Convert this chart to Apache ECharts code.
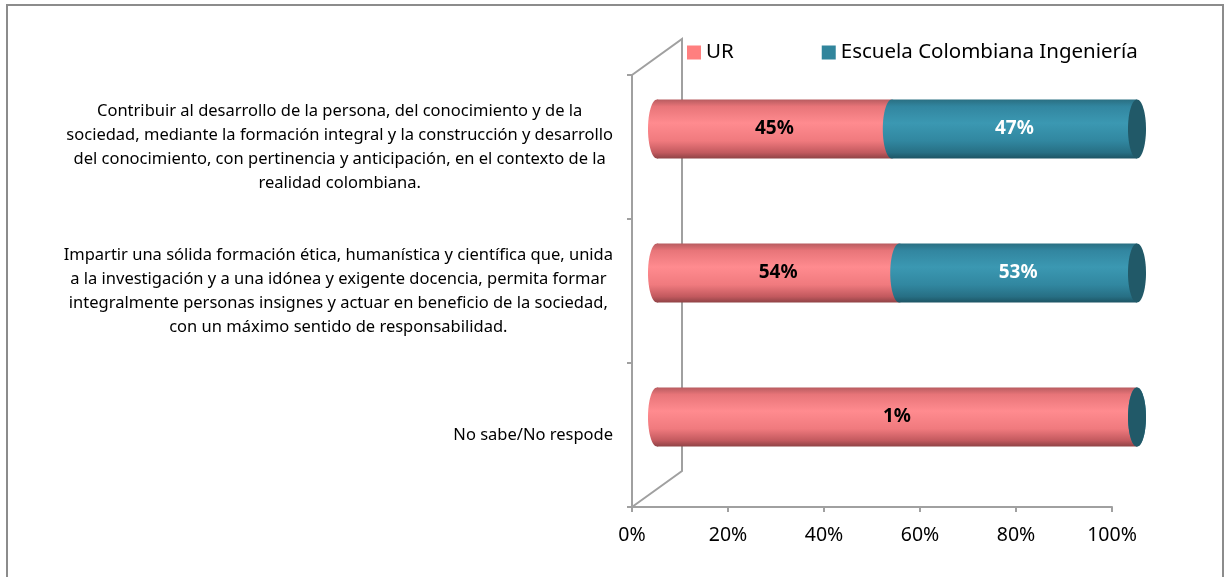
<!DOCTYPE html>
<html>
<head>
<meta charset="utf-8">
<style>
  html, body { margin: 0; padding: 0; background: #fff; }
  #chart { width: 1230px; height: 577px; }
</style>
<script src="https://cdn.jsdelivr.net/npm/echarts@6/dist/echarts.min.js"></script>
</head>
<body>
<div id="chart"></div>
<script>
// categories, top to bottom
const categories = [
  'Contribuir al desarrollo de la persona, del conocimiento y de la\nsociedad, mediante la formación integral y la construcción y desarrollo\ndel conocimiento, con pertinencia y anticipación, en el contexto de la\nrealidad colombiana.',
  'Impartir una sólida formación ética, humanística y científica que, unida\na la investigación y a una idónea y exigente docencia, permita formar\nintegralmente personas insignes y actuar en beneficio de la sociedad,\ncon un máximo sentido de responsabilidad.',
  'No sabe/No respode'
]
const urValues = [45, 54, 1]
const escuelaValues = [47, 53, 0]

// 3d depth of the chart box (px)
const DEPTH_X = 50
const DEPTH_Y = -36

const pinkGrad = () => new echarts.graphic.LinearGradient(0, 0, 0, 1, [
  { offset: 0, color: '#b85c60' },
  { offset: 0.12, color: '#e87579' },
  { offset: 0.4, color: '#ff8b8f' },
  { offset: 0.7, color: '#f07a7e' },
  { offset: 0.9, color: '#c2595e' },
  { offset: 1, color: '#8f4346' }
])
const tealGrad = () => new echarts.graphic.LinearGradient(0, 0, 0, 1, [
  { offset: 0, color: '#2a6f82' },
  { offset: 0.12, color: '#3286a0' },
  { offset: 0.4, color: '#3b98b2' },
  { offset: 0.7, color: '#3187a0' },
  { offset: 0.9, color: '#276f84' },
  { offset: 1, color: '#1d5464' }
])

// 100% stacked segments: [category, start, end, raw value]
const urData = categories.map((c, i) => {
  const t = urValues[i] + escuelaValues[i]
  return [i, 0, urValues[i] / t * 100, urValues[i]]
})
const escuelaData = categories.map((c, i) => {
  const t = urValues[i] + escuelaValues[i]
  return [i, urValues[i] / t * 100, 100, escuelaValues[i]]
})

function cylinder(fill, labelColor, withCap) {
  return function(params, api) {
    const cat = api.value(0)
    const p0 = api.coord([api.value(1), cat])
    const p1 = api.coord([api.value(2), cat])
    const band = api.size([0, 1])[1]
    const ry = band * 0.205
    const rx = 9
    const dx = DEPTH_X / 2
    const dy = DEPTH_Y / 2
    const x0 = p0[0] + dx
    const x1 = p1[0] + dx
    const cy = p0[1] + dy
    const children = [
      { type: 'ellipse', shape: { cx: x0, cy: cy, rx: rx, ry: ry }, style: { fill: fill() } },
      { type: 'rect', shape: { x: x0, y: cy - ry, width: Math.max(x1 - x0, 0), height: ry * 2 }, style: { fill: fill() } }
    ]
    if (withCap) {
      children.push({ type: 'ellipse', shape: { cx: x1, cy: cy, rx: rx, ry: ry }, style: { fill: '#215968' } })
    }
    const v = api.value(3)
    if (v > 0) {
      children.push({
        type: 'text',
        style: {
          x: (x0 + x1) / 2, y: cy, text: v + '%',
          align: 'center', verticalAlign: 'middle',
          fill: labelColor, font: 'bold 19px "Noto Sans"'
        }
      })
    }
    return { type: 'group', children: children }
  }
}

const chart = echarts.init(document.getElementById('chart'))
chart.setOption({
  animation: false,
  textStyle: { fontFamily: 'Noto Sans' },
  grid: { left: 632, right: 118, top: 75, bottom: 70 },
  legend: {
    data: ['UR', 'Escuela Colombiana Ingeniería'],
    left: 682,
    top: 37,
    icon: 'rect',
    itemWidth: 14,
    itemHeight: 14,
    itemGap: 88,
    textStyle: { fontSize: 20.5, color: '#000' }
  },
  xAxis: {
    type: 'value',
    min: 0,
    max: 100,
    interval: 20,
    axisLine: { show: true, lineStyle: { color: '#a0a0a0', width: 2 } },
    axisTick: { show: true, length: 5, lineStyle: { color: '#a0a0a0', width: 2 } },
    splitLine: { show: false },
    axisLabel: { formatter: '{value}%', fontSize: 19.5, color: '#000', margin: 18 }
  },
  yAxis: {
    type: 'category',
    inverse: true,
    data: categories,
    axisLine: { show: true, lineStyle: { color: '#a0a0a0', width: 2 } },
    axisTick: { show: true, length: 5, lineStyle: { color: '#a0a0a0', width: 2 } },
    axisLabel: {
      margin: 19,
      fontSize: 16.5,
      formatter: value => value.split('\n').map(l => '{c|' + l + '}').join('\n'),
      rich: {
        c: { fontSize: 16.5, lineHeight: 24, color: '#000', align: 'center', fontFamily: 'Noto Sans' }
      }
    }
  },
  graphic: [
    {
      type: 'rect',
      z: -1,
      shape: { x: 7, y: 5, width: 1216, height: 620 },
      style: { fill: 'none', stroke: '#8c8c8c', lineWidth: 2 }
    },
    {
      type: 'polyline',
      z: -1,
      shape: { points: [[632, 75], [632 + DEPTH_X, 75 + DEPTH_Y], [632 + DEPTH_X, 507 + DEPTH_Y], [632, 507]] },
      style: { fill: 'none', stroke: '#a0a0a0', lineWidth: 2 }
    }
  ],
  series: [
    {
      name: 'UR',
      type: 'custom',
      itemStyle: { color: '#ff7f7f' },
      encode: { x: [1, 2], y: 0 },
      renderItem: cylinder(pinkGrad, '#000', false),
      data: urData
    },
    {
      name: 'Escuela Colombiana Ingeniería',
      type: 'custom',
      itemStyle: { color: '#31859c' },
      encode: { x: [1, 2], y: 0 },
      renderItem: cylinder(tealGrad, '#fff', true),
      data: escuelaData
    }
  ]
})
</script>
</body>
</html>
